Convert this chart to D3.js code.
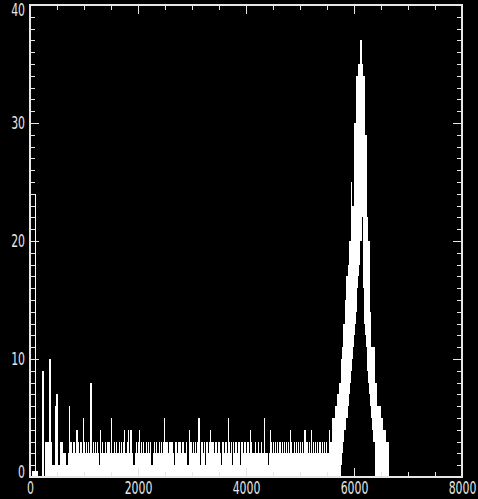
<!DOCTYPE html>
<html>
<head>
<meta charset="utf-8">
<script src="https://cdn.jsdelivr.net/npm/d3@7"></script>
<style>
html, body { margin: 0; padding: 0; background: #000; }
svg { display: block; }
</style>
</head>
<body>
<div id="viz"></div>
<script>
"use strict";

// histogram, 20-unit bins starting at 0
var binWidth = 20;
var counts = [
	0,0,0.5,0.5,0.5,24,0.5,0,0,0,
	0,9,9,0,3,3,3,3,10,3,
	1,1,1,6,7,7,1,1,3,3,
	3,2,2,1,1,2,6,3,3,2,
	3,3,2,4,3,2,3,3,2,5,
	3,2,3,2,3,2,8,2,3,2,
	3,2,3,2,1,4,2,3,2,3,
	2,3,3,3,2,5,2,2,3,2,
	3,2,3,2,3,2,3,4,2,2,
	3,4,2,4,2,1,1,2,3,2,
	3,4,2,3,2,3,2,3,2,3,
	2,3,1,1,2,3,2,3,2,3,
	2,3,2,3,5,3,3,3,2,3,
	3,3,2,1,3,3,2,3,3,3,
	2,3,3,2,3,1,1,4,3,3,
	2,3,2,3,2,3,5,1,3,3,
	2,3,1,3,3,2,3,4,3,3,
	2,3,3,2,3,3,2,1,3,3,
	2,3,2,5,3,2,3,1,3,2,
	3,3,2,3,1,3,3,2,3,3,
	2,3,3,2,4,3,2,2,3,2,
	2,3,2,2,3,2,2,5,2,2,
	1,2,4,3,2,3,2,3,2,3,
	2,3,2,3,2,3,2,3,2,3,
	2,4,3,2,3,2,3,2,3,2,
	3,2,3,2,4,4,3,2,3,2,
	4,2,3,2,3,2,3,2,3,2,
	3,2,3,2,3,2,2,4,3,3,
	5,5,6,6,7,7,8,8,10,11,
	13,13,15,17,18,20,20,25,23,23,
	30,30,34,34,35,35,37,35,34,34,
	29,29,22,20,20,14,11,11,11,8,
	8,6,6,6,6,5,5,4,4,4,
	3,3
];

// inner edge of the peak (the black hollow), from x = 5760 on
var floorStart = 5760;
var peakFloor = [
	1,2,3,4,4,5,6,7,8,9,
	10,11,12,13,14,16,17,18,20,22,
	16,13,12,11,9,8,7,6,5,4,
	3
];

var xMajor = [0, 2000, 4000, 6000, 8000];
var yMajor = [0, 10, 20, 30, 40];

var width = 478, height = 499,
	plotLeft = 30, plotRight = 462, plotTop = 5, plotBottom = 477,
	axisColor = "#e6e6e6",
	labelScale = 0.64;

var x = d3.scaleLinear().domain([0, 8000]).range([plotLeft, plotRight]);
var y = d3.scaleLinear().domain([0, 40]).range([plotBottom, plotTop]);

var svg = d3.select("#viz")
	.append("svg")
	.attr("width", width)
	.attr("height", height)
	.style("background", "#000");

var bins = counts.map(function(c, i) {
	var x0 = i * binWidth;
	var k = (x0 - floorStart) / binWidth;
	var lo = (k >= 0 && k < peakFloor.length) ? peakFloor[k] : 0;
	return { x0: x0, hi: c, lo: lo };
});
bins.push({ x0: counts.length * binWidth, hi: 0, lo: 0 });

var area = d3.area()
	.x(function(d) { return x(d.x0) })
	.y0(function(d) { return y(d.lo) })
	.y1(function(d) { return y(d.hi) })
	.curve(d3.curveStepAfter);

svg.append("path")
	.datum(bins)
	.attr("d", area)
	.attr("fill", "#fff")
	.attr("shape-rendering", "crispEdges");

var styleAxis = function(g) {
	g.select(".domain").remove();
	g.selectAll("line")
		.attr("stroke", axisColor)
		.attr("stroke-width", 1)
		.attr("shape-rendering", "crispEdges");
	g.selectAll("text")
		.attr("fill", axisColor)
		.attr("font-family", "DejaVu Sans, sans-serif")
		.attr("font-size", "17px")
		.attr("transform", "scale(" + labelScale + ",1)");
};

var fmt = d3.format("d");

// minor ticks
svg.append("g").attr("transform", "translate(0," + plotBottom + ")")
	.call(d3.axisBottom(x).ticks(16).tickSize(-5).tickFormat(""))
	.call(styleAxis);
svg.append("g").attr("transform", "translate(0," + plotTop + ")")
	.call(d3.axisTop(x).ticks(16).tickSize(-5).tickFormat(""))
	.call(styleAxis);
svg.append("g").attr("transform", "translate(" + plotLeft + ",0)")
	.call(d3.axisLeft(y).ticks(40).tickSize(-5).tickFormat(""))
	.call(styleAxis);
svg.append("g").attr("transform", "translate(" + plotRight + ",0)")
	.call(d3.axisRight(y).ticks(40).tickSize(-5).tickFormat(""))
	.call(styleAxis);

// major ticks + labels
svg.append("g").attr("transform", "translate(0," + plotBottom + ")")
	.call(d3.axisBottom(x).tickValues(xMajor).tickSize(-9).tickPadding(5).tickFormat(fmt))
	.call(styleAxis);
svg.append("g").attr("transform", "translate(0," + plotTop + ")")
	.call(d3.axisTop(x).tickValues(xMajor).tickSize(-9).tickFormat(""))
	.call(styleAxis);
var yAxis = svg.append("g").attr("transform", "translate(" + plotLeft + ",0)")
	.call(d3.axisLeft(y).tickValues(yMajor).tickSize(-9).tickPadding(5 / labelScale).tickFormat(fmt))
	.call(styleAxis);
svg.append("g").attr("transform", "translate(" + plotRight + ",0)")
	.call(d3.axisRight(y).tickValues(yMajor).tickSize(-9).tickFormat(""))
	.call(styleAxis);

// the end labels sit a little inside the frame
yAxis.selectAll("text")
	.attr("y", function(d) { return d === 0 ? -5 : (d === 40 ? 5 : 0) });

svg.append("rect")
	.attr("x", plotLeft)
	.attr("y", plotTop)
	.attr("width", plotRight - plotLeft)
	.attr("height", plotBottom - plotTop)
	.attr("fill", "none")
	.attr("stroke", axisColor)
	.attr("stroke-width", 1.6)
	.attr("shape-rendering", "crispEdges");
</script>
</body>
</html>
